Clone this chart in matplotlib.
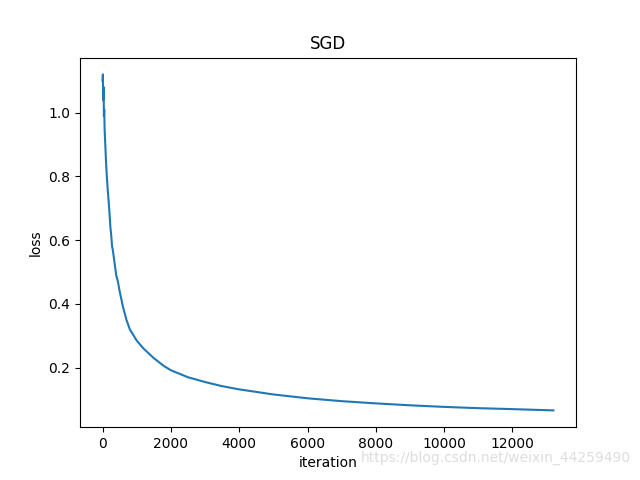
import matplotlib
matplotlib.use("Agg")
import matplotlib.pyplot as plt

iterations = [0, 10, 20, 30, 40, 50, 60, 80, 100, 120, 150, 180, 200, 230, 250, 280, 300,
              350, 400, 450, 500, 600, 700, 800, 1000, 1200, 1500, 1800, 2000, 2500,
              3000, 3500, 4000, 5000, 6000, 7000, 8000, 9000, 10000, 11000, 12000, 13200]
loss = [1.10, 1.12, 1.04, 1.08, 0.99, 1.01, 0.95, 0.90, 0.85, 0.81, 0.76, 0.72, 0.69, 0.64,
        0.62, 0.58, 0.57, 0.53, 0.49, 0.47, 0.44, 0.39, 0.35, 0.32, 0.285, 0.26, 0.23,
        0.205, 0.192, 0.17, 0.155, 0.142, 0.132, 0.116, 0.104, 0.095, 0.088, 0.082,
        0.077, 0.073, 0.070, 0.066]

fig = plt.figure(figsize=(6.4, 4.8), dpi=100)
plt.plot(iterations, loss)
plt.title("SGD")
plt.xlabel("iteration")
plt.ylabel("loss")
fig.text(0.985, 0.045, "https://blog.csdn.net/weixin_44259490", ha="right", va="center",
         color="#dddddd", fontsize=10)
plt.savefig("out.png")
